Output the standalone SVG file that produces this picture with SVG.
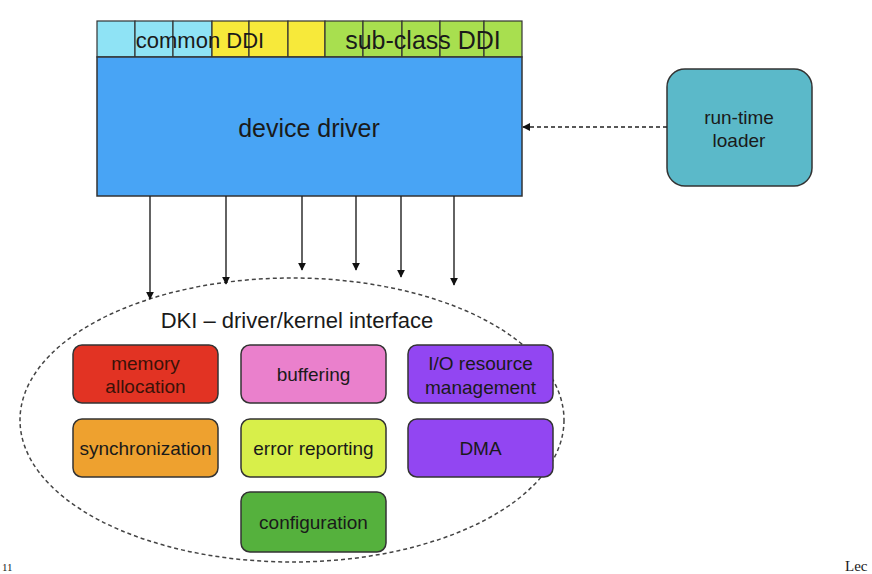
<svg xmlns="http://www.w3.org/2000/svg" width="872" height="574" viewBox="0 0 872 574">
<defs>
<marker id="ah" viewBox="0 0 10 10" refX="9" refY="5" markerWidth="8" markerHeight="8" markerUnits="userSpaceOnUse" orient="auto"><path d="M0,0 L10,5 L0,10 z" fill="#111"/></marker>
<style>
text{font-family:"Liberation Sans",Arial,sans-serif;fill:#1a1a1a;text-anchor:middle}
.cell{stroke:#333;stroke-width:1.2}
.box{stroke:#333;stroke-width:1.5}
.lbl{font-size:19px}
.arr{stroke:#222;stroke-width:1.4;fill:none;marker-end:url(#ah)}
</style>
</defs>
<rect width="872" height="574" fill="#fff"/>
<g id="ddi-row">
<rect class="cell" x="97" y="21" width="38" height="36" fill="#8fe3f5"/>
<rect class="cell" x="135" y="21" width="38" height="36" fill="#8fe3f5"/>
<rect class="cell" x="173" y="21" width="39" height="36" fill="#8fe3f5"/>
<rect class="cell" x="212" y="21" width="37" height="36" fill="#f7e93a"/>
<rect class="cell" x="249" y="21" width="39" height="36" fill="#f7e93a"/>
<rect class="cell" x="288" y="21" width="37" height="36" fill="#f7e93a"/>
<rect class="cell" x="325" y="21" width="38" height="36" fill="#a8df4f"/>
<rect class="cell" x="363" y="21" width="39" height="36" fill="#a8df4f"/>
<rect class="cell" x="402" y="21" width="38" height="36" fill="#a8df4f"/>
<rect class="cell" x="440" y="21" width="44" height="36" fill="#a8df4f"/>
<rect class="cell" x="484" y="21" width="38" height="36" fill="#a8df4f"/>
<text x="200" y="48" style="font-size:22px">common DDI</text>
<text x="423" y="49" style="font-size:25px">sub-class DDI</text>
</g>
<g id="device-driver">
<rect class="box" x="97" y="57" width="425" height="139" fill="#48a4f5"/>
<text x="309" y="137" style="font-size:25px">device driver</text>
</g>
<g id="run-time-loader">
<rect class="box" x="667" y="69" width="145" height="117" rx="18" fill="#5bb9c9"/>
<text x="739" y="124" class="lbl">run-time</text>
<text x="739" y="147" class="lbl">loader</text>
</g>
<g id="dki">
<ellipse cx="292" cy="420" rx="272" ry="142" fill="none" stroke="#444" stroke-width="1.5" stroke-dasharray="4,3"/>
<text x="297" y="328" style="font-size:22px">DKI – driver/kernel interface</text>
</g>
<g id="memory-allocation">
<rect class="box" x="73" y="345" width="145" height="58" rx="9" fill="#e23323"/>
<text x="145.5" y="370" class="lbl" style="fill:#3a1208">memory</text>
<text x="145.5" y="393" class="lbl" style="fill:#3a1208">allocation</text>
</g>
<g id="buffering">
<rect class="box" x="241" y="345" width="145" height="58" rx="9" fill="#ea80cc"/>
<text x="313.5" y="381" class="lbl">buffering</text>
</g>
<g id="io-resource-management">
<rect class="box" x="408" y="345" width="145" height="58" rx="9" fill="#9246f2"/>
<text x="480.5" y="370" class="lbl">I/O resource</text>
<text x="480.5" y="394" class="lbl">management</text>
</g>
<g id="synchronization">
<rect class="box" x="73" y="419" width="145" height="58" rx="9" fill="#eea12f"/>
<text x="145.5" y="455" class="lbl">synchronization</text>
</g>
<g id="error-reporting">
<rect class="box" x="241" y="419" width="145" height="58" rx="9" fill="#d8ef4a"/>
<text x="313.5" y="455" class="lbl">error reporting</text>
</g>
<g id="dma">
<rect class="box" x="408" y="419" width="145" height="58" rx="9" fill="#9246f2"/>
<text x="480.5" y="455" class="lbl">DMA</text>
</g>
<g id="configuration">
<rect class="box" x="241" y="492" width="145" height="60" rx="9" fill="#55b13d"/>
<text x="313.5" y="529" class="lbl">configuration</text>
</g>
<g id="connectors">
<line class="arr" x1="150" y1="196" x2="150" y2="299"/>
<line class="arr" x1="226" y1="196" x2="226" y2="284"/>
<line class="arr" x1="302" y1="196" x2="302" y2="270"/>
<line class="arr" x1="356" y1="196" x2="356" y2="270"/>
<line class="arr" x1="401" y1="196" x2="401" y2="277"/>
<line class="arr" x1="454" y1="196" x2="454" y2="285"/>
<line class="arr" x1="667" y1="127" x2="523" y2="127" stroke-dasharray="4,3"/>
</g>
<text x="2" y="571" style="font-family:'Liberation Serif',serif;font-size:11px;text-anchor:start">11</text>
<text x="845" y="571" style="font-family:'Liberation Serif',serif;font-size:15px;text-anchor:start">Lec</text>
</svg>
